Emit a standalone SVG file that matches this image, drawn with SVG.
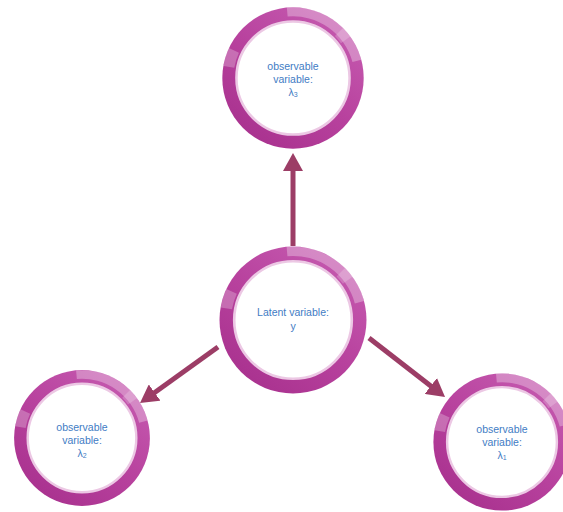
<svg xmlns="http://www.w3.org/2000/svg" xmlns:xlink="http://www.w3.org/1999/xlink" width="563" height="512" viewBox="0 0 563 512">
  <style>
    .lbl { font-family: "Liberation Sans", Arial, sans-serif; font-size: 10.5px; fill: #3f7cc4; text-anchor: middle; }
    .edge { stroke: #9c3d66; stroke-width: 5; fill: none; marker-end: url(#head); }
  </style>
  <defs>
    <linearGradient id="ringGrad" x1="0.8" y1="0.1" x2="0.2" y2="0.9">
      <stop offset="0" stop-color="#c458ae"/>
      <stop offset="0.5" stop-color="#b8429e"/>
      <stop offset="1" stop-color="#aa3390"/>
    </linearGradient>
    <marker id="head" markerUnits="userSpaceOnUse" viewBox="0 0 18 20" markerWidth="18" markerHeight="20" refX="2" refY="10" orient="auto">
      <path d="M0,0 L18,10 L0,20 Z" fill="#9c3d66"/>
    </marker>
    <!-- glossy ring, outer radius 70, inner radius 55, centred on the origin -->
    <g id="ring">
      <circle r="70" fill="url(#ringGrad)"/>
      <!-- highlight band along the outer edge, upper right -->
      <path d="M -6.1,-69.7 A 70 70 0 0 1 67.6,-18.1 L 58.9,-15.8 A 61 61 0 0 0 -5.3,-60.8 Z" fill="#ffffff" fill-opacity="0.3"/>
      <path d="M 49.5,-49.5 A 70 70 0 0 1 56.6,-41.1 L 47.5,-34.5 A 58.7 58.7 0 0 0 41.5,-41.5 Z" fill="#ffffff" fill-opacity="0.2"/>
      <!-- small highlight, left side -->
      <path d="M -68.9,-12 A 70 70 0 0 1 -63.5,-29.6 L -53.5,-25 A 59 59 0 0 0 -58.1,-10.2 Z" fill="#ffffff" fill-opacity="0.25"/>
      <circle r="56" fill="#ffffff" stroke="#ecc8e4" stroke-width="2.5"/>
    </g>
  </defs>

  <g id="connectors">
    <line class="edge" x1="293" y1="246" x2="293" y2="169"/>
    <line class="edge" x1="218" y1="347" x2="153" y2="393.7"/>
    <line class="edge" x1="369" y1="338" x2="432.4" y2="387.2"/>
  </g>

  <g id="latent">
    <use xlink:href="#ring" href="#ring" transform="translate(293,320) scale(1.05)"/>
    <text class="lbl" x="293" y="316">Latent variable:</text>
    <text class="lbl" x="293" y="330">y</text>
  </g>

  <g id="obs3">
    <use xlink:href="#ring" href="#ring" transform="translate(293,78) scale(1.01)"/>
    <text class="lbl" x="293" y="70">observable</text>
    <text class="lbl" x="293" y="83">variable:</text>
    <text class="lbl" x="293" y="96">λ<tspan font-size="7" dy="1">3</tspan></text>
  </g>

  <g id="obs2">
    <use xlink:href="#ring" href="#ring" transform="translate(82,438) scale(0.97)"/>
    <text class="lbl" x="82" y="431">observable</text>
    <text class="lbl" x="82" y="444">variable:</text>
    <text class="lbl" x="82" y="457">λ<tspan font-size="7" dy="1">2</tspan></text>
  </g>

  <g id="obs1">
    <use xlink:href="#ring" href="#ring" transform="translate(502,442) scale(0.98)"/>
    <text class="lbl" x="502" y="433">observable</text>
    <text class="lbl" x="502" y="446">variable:</text>
    <text class="lbl" x="502" y="459">λ<tspan font-size="7" dy="1">1</tspan></text>
  </g>
</svg>
